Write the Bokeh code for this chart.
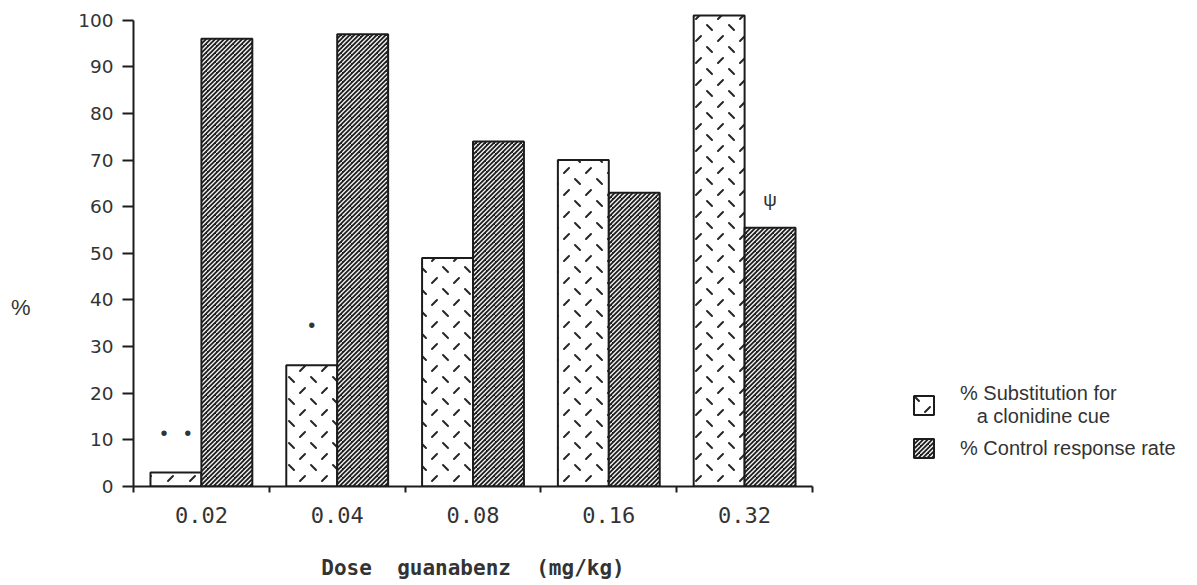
import base64
import numpy as np
from bokeh.plotting import figure
from bokeh.models import (Range1d, LinearAxis, FixedTicker, Legend, LegendItem,
                          ImageURLTexture)
from bokeh.core.properties import value
from bokeh.embed import file_html
from bokeh.resources import INLINE

# ---- data -------------------------------------------------------------
doses = ["0.02", "0.04", "0.08", "0.16", "0.32"]
substitution = [3, 26, 49, 70, 101]        # % substitution for a clonidine cue
control_rate = [96, 97, 74, 63, 55.5]      # % control response rate
y_ticks = [0, 10, 20, 30, 40, 50, 60, 70, 80, 90, 100]

# significance marks: group index, series (0 = substitution, 1 = control), height, symbol
sig_group = [0, 1, 4]
sig_series = [0, 0, 1]
sig_y = [11.5, 34.7, 61.5]
sig_text = ["\u2022\u00a0\u00a0\u00a0\u2022", "\u2022", "\u03c8"]
sig_size = ["20px", "20px", "19px"]

x_title = "Dose\u00a0\u00a0guanabenz\u00a0\u00a0(mg/kg)"
y_title = "%"
Y_TITLE_AT = 38.4      # height on the value scale where the "%" sits

# ---- geometry -----------------------------------------------------------
BAR_W = 0.375
centers = np.arange(len(doses)) + 0.5
x_sub = centers - BAR_W / 2
x_ctl = centers + BAR_W / 2
sig_x = [centers[g] + (BAR_W / 2) * (2 * s - 1) for g, s in zip(sig_group, sig_series)]

INK = "#1c1c1c"
TEXT = "#333333"


def svg_texture(svg):
    return ImageURLTexture(url="data:image/svg+xml;base64," + base64.b64encode(svg.encode()).decode())


# tile of short alternating dashes for the substitution bars
dash_tex = svg_texture(
    "<svg xmlns='http://www.w3.org/2000/svg' width='22' height='22'>"
    "<rect width='22' height='22' fill='white'/>"
    "<path d='M3 3 L8 8 M14 19 L19 14' stroke='#262626' "
    "stroke-width='2' stroke-linecap='round'/></svg>")

# dense 45 degree stripes for the control-rate bars
stripe_tex = svg_texture(
    "<svg xmlns='http://www.w3.org/2000/svg' width='9' height='9'>"
    "<rect width='9' height='9' fill='#1e1e1e'/>"
    "<path d='M-1 5.5 L5.5 -1 M-1 10 L10 -1 M3.5 10 L10 3.5' stroke='#f4f4f4' "
    "stroke-width='1.4'/></svg>")

p = figure(width=1197, height=585, output_backend="svg", toolbar_location=None,
           x_range=Range1d(0, 7.835), y_range=Range1d(0, 104),
           x_axis_type=None, y_axis_type=None,
           min_border_left=133, min_border_right=0, min_border_top=1, min_border_bottom=99)
p.grid.visible = False
p.outline_line_color = None
p.background_fill_color = "white"
p.border_fill_color = "white"

r_sub = p.vbar(x=x_sub, top=substitution, width=BAR_W, bottom=0,
               fill_color="white", line_color=INK, line_width=2,
               hatch_pattern=value("dashes"), hatch_extra={"dashes": dash_tex},
               hatch_color="#2a2a2a", hatch_scale=22, hatch_weight=2)

r_ctl = p.vbar(x=x_ctl, top=control_rate, width=BAR_W, bottom=0,
               fill_color="#1e1e1e", line_color=INK, line_width=2,
               hatch_pattern=value("stripes"), hatch_extra={"stripes": stripe_tex},
               hatch_color="white", hatch_scale=9, hatch_weight=1.4)

p.text(x=sig_x, y=sig_y, text=sig_text, text_align="center", text_baseline="middle",
       text_font=value("Liberation Sans"), text_font_size=sig_size, text_color=TEXT)

# ---- axes ---------------------------------------------------------------
xaxis = LinearAxis(ticker=FixedTicker(ticks=list(centers), minor_ticks=list(range(len(doses) + 1))),
                   bounds=(0, len(doses)),
                   major_label_overrides={float(c): d for c, d in zip(centers, doses)},
                   major_tick_out=0, major_tick_in=0,
                   minor_tick_out=6, minor_tick_in=0, minor_tick_line_width=2,
                   minor_tick_line_color=INK,
                   axis_line_width=2, axis_line_color=INK,
                   major_label_text_font="DejaVu Sans Mono", major_label_text_font_size="22px",
                   major_label_text_color=TEXT, major_label_standoff=14)
p.add_layout(xaxis, "below")

# axis title centred under the dose groups
xtitle_axis = LinearAxis(ticker=FixedTicker(ticks=[len(doses) / 2], minor_ticks=[]),
                         major_label_overrides={len(doses) / 2: x_title},
                         axis_line_color=None, major_tick_line_color=None,
                         minor_tick_line_color=None, major_tick_out=0, major_tick_in=0,
                         major_label_text_font="DejaVu Sans Mono",
                         major_label_text_font_style="bold",
                         major_label_text_font_size="21px",
                         major_label_text_color=TEXT, major_label_standoff=30)
p.add_layout(xtitle_axis, "below")

yaxis = LinearAxis(ticker=FixedTicker(ticks=y_ticks, minor_ticks=[]), bounds=(0, 100),
                   major_tick_out=11, major_tick_in=0, major_tick_line_width=2,
                   major_tick_line_color=INK,
                   minor_tick_out=0, minor_tick_in=0,
                   axis_line_width=2, axis_line_color=INK,
                   major_label_text_font="DejaVu Sans", major_label_text_font_size="18.5px",
                   major_label_text_color=TEXT, major_label_standoff=9)
p.add_layout(yaxis, "left")

ytitle_axis = LinearAxis(ticker=FixedTicker(ticks=[Y_TITLE_AT], minor_ticks=[]),
                         major_label_overrides={Y_TITLE_AT: y_title},
                         axis_line_color=None, major_tick_line_color=None,
                         minor_tick_line_color=None, major_tick_out=0, major_tick_in=0,
                         major_label_text_font="Liberation Sans",
                         major_label_text_font_size="22px",
                         major_label_text_color=TEXT, major_label_standoff=45)
p.add_layout(ytitle_axis, "left")

legend = Legend(items=[
    LegendItem(label="% Substitution for\n\u00a0\u00a0\u00a0a clonidine cue", renderers=[r_sub]),
    LegendItem(label="% Control response rate", renderers=[r_ctl]),
], location=(778, 26), orientation="vertical", padding=0, margin=0, spacing=8,
    glyph_width=25, glyph_height=24, label_standoff=24,
    label_text_font="Liberation Sans", label_text_font_size="20px",
    label_text_color=TEXT, border_line_alpha=0, background_fill_alpha=0)
p.add_layout(legend)

open("out.html", "w").write(file_html(p, INLINE))
